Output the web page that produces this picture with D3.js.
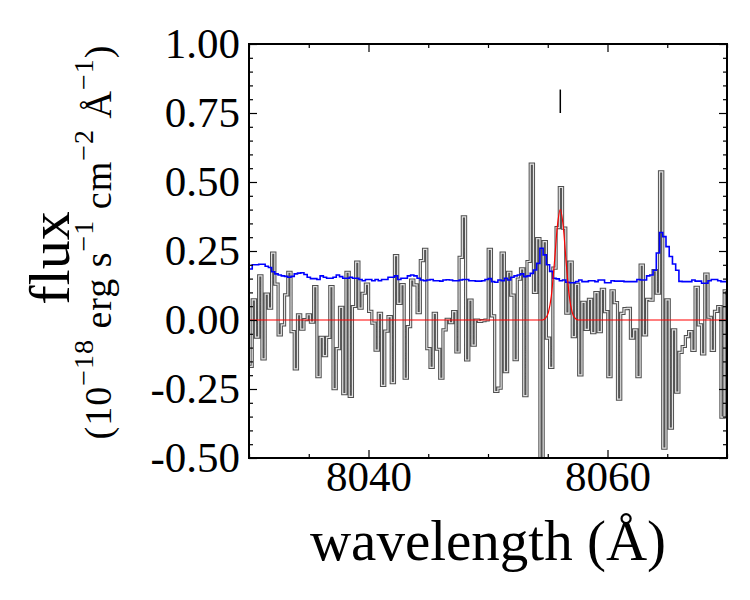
<!DOCTYPE html>
<html>
<head>
<meta charset="utf-8">
<script src="https://cdn.jsdelivr.net/npm/d3@7"></script>
<style>
  body { margin: 0; background: #fff; }
  svg text { font-family: "Liberation Serif", "DejaVu Serif", serif; fill: #000; }
</style>
</head>
<body>
<div id="chart"></div>
<script>
// spectrum sampling (regular wavelength grid)
const lambdaStart = 8030.0
const lambdaStep = 0.2705

// observed flux per bin
const flux = [
  -0.168, 0.073, -0.062, 0.160, -0.141, 0.094, 0.043, 0.242, 0.130, -0.054,
  -0.018, 0.091, 0.173, -0.042, -0.177, 0.019, -0.033, 0.001, 0.019, -0.008,
  0.121, -0.205, -0.063, -0.129, -0.063, 0.121, -0.249, -0.104, 0.046, -0.267,
  0.173, -0.277, 0.049, 0.210, 0.043, 0.097, 0.130, 0.031, -0.011, -0.109,
  0.024, -0.237, -0.040, 0.012, -0.227, 0.233, 0.060, 0.128, -0.211, -0.024,
  0.145, 0.127, 0.027, 0.215, 0.256, -0.104, -0.172, 0.024, -0.106, -0.211,
  -0.036, 0.002, -0.010, 0.030, -0.116, 0.227, 0.374, -0.145, 0.072, -0.091,
  0.000, -0.005, -0.002, 0.000, 0.256, 0.015, -0.259, -0.247, 0.242, -0.187,
  0.173, 0.090, -0.144, 0.148, 0.185, -0.274, 0.212, 0.565, 0.100, 0.295,
  -0.650, 0.284, -0.066, -0.172, 0.188, 0.335, 0.480, 0.333, 0.025, 0.210,
  -0.060, 0.129, -0.199, 0.064, -0.034, 0.075, -0.046, 0.099, -0.042, 0.111,
  0.030, -0.205, 0.106, 0.063, -0.287, 0.024, 0.041, 0.042, -0.066, -0.036,
  -0.205, 0.199, -0.054, 0.075, 0.072, 0.179, 0.097, 0.537, -0.464, 0.073,
  -0.392, -0.036, -0.261, -0.117, -0.096, -0.060, -0.042, -0.110, 0.118, -0.018,
  -0.123, 0.166, 0.010, -0.110, 0.031, 0.049, -0.352, 0.106, 0.097
]

// noise per bin
const noise = [
  0.185, 0.200, 0.200, 0.202, 0.202, 0.195, 0.190, 0.175, 0.167, 0.163,
  0.160, 0.158, 0.155, 0.158, 0.167, 0.170, 0.171, 0.165, 0.155, 0.150,
  0.150, 0.147, 0.160, 0.155, 0.151, 0.151, 0.155, 0.163, 0.157, 0.151,
  0.151, 0.155, 0.151, 0.151, 0.147, 0.142, 0.147, 0.147, 0.142, 0.147,
  0.142, 0.147, 0.147, 0.155, 0.155, 0.160, 0.147, 0.151, 0.151, 0.160,
  0.163, 0.160, 0.151, 0.145, 0.142, 0.145, 0.147, 0.142, 0.142, 0.141,
  0.145, 0.146, 0.145, 0.142, 0.142, 0.145, 0.147, 0.147, 0.142, 0.142,
  0.141, 0.141, 0.142, 0.147, 0.150, 0.139, 0.137, 0.145, 0.142, 0.151,
  0.145, 0.155, 0.160, 0.163, 0.167, 0.157, 0.160, 0.169, 0.181, 0.205,
  0.260, 0.236, 0.200, 0.176, 0.151, 0.149, 0.142, 0.145, 0.137, 0.135,
  0.135, 0.139, 0.145, 0.139, 0.139, 0.142, 0.142, 0.139, 0.145, 0.145,
  0.135, 0.135, 0.142, 0.141, 0.141, 0.141, 0.139, 0.139, 0.139, 0.139,
  0.147, 0.145, 0.145, 0.160, 0.163, 0.180, 0.243, 0.317, 0.302, 0.266,
  0.230, 0.203, 0.180, 0.140, 0.139, 0.139, 0.139, 0.145, 0.141, 0.141,
  0.133, 0.133, 0.142, 0.147, 0.147, 0.142, 0.139, 0.139, 0.139
]

// fitted line model
const modelWave = [8030, 8054.55, 8054.8, 8055.05, 8055.3, 8055.55, 8055.8, 8056.05,
  8056.3, 8056.55, 8056.8, 8057.05, 8057.3, 8057.55, 8070]
const modelFlux = [0, 0, 0.006, 0.027, 0.087, 0.204, 0.338, 0.400,
  0.338, 0.204, 0.087, 0.027, 0.006, 0, 0]

// line position marker
const markerWave = 8056.05
const markerRange = [0.75, 0.835]

const xTicks = [8040, 8060]
const xMinor = [8030, 8035, 8045, 8050, 8055, 8065, 8070]
const yTicks = [-0.5, -0.25, 0, 0.25, 0.5, 0.75, 1.0]

const width = 750, height = 600
const margin = {top: 44, right: 23, bottom: 142, left: 249}
const innerW = width - margin.left - margin.right
const innerH = height - margin.top - margin.bottom

const svg = d3.select('#chart').append('svg')
  .attr('width', width)
  .attr('height', height)

const g = svg.append('g').attr('transform', `translate(${margin.left},${margin.top})`)

const x = d3.scaleLinear().domain([8030, 8070]).range([0, innerW])
const y = d3.scaleLinear().domain([-0.5, 1.0]).range([innerH, 0])

g.append('clipPath').attr('id', 'clip')
  .append('rect').attr('width', innerW).attr('height', innerH)

const plot = g.append('g').attr('clip-path', 'url(#clip)')

// step data: left edge of every bin, plus closing edge
const steps = vals => {
  const pts = vals.map((v, i) => [lambdaStart + i * lambdaStep, v])
  pts.push([lambdaStart + vals.length * lambdaStep, vals[vals.length - 1]])
  return pts
}
const stepLine = d3.line()
  .x(d => x(d[0]))
  .y(d => y(d[1]))
  .curve(d3.curveStepAfter)

plot.append('path')
  .attr('d', stepLine(steps(flux)))
  .attr('fill', 'none')
  .attr('stroke', '#505050')
  .attr('stroke-width', 3.2)

plot.append('path')
  .attr('d', stepLine(steps(flux)))
  .attr('fill', 'none')
  .attr('stroke', '#e2e2e2')
  .attr('stroke-width', 1.2)

plot.append('path')
  .attr('d', stepLine(steps(noise)))
  .attr('fill', 'none')
  .attr('stroke', '#0000ff')
  .attr('stroke-width', 1.6)

const modelLine = d3.line()
  .x((d, i) => x(modelWave[i]))
  .y(d => y(d))
  .curve(d3.curveMonotoneX)

plot.append('path')
  .attr('d', modelLine(modelFlux))
  .attr('fill', 'none')
  .attr('stroke', '#ff0000')
  .attr('stroke-width', 1.2)

plot.append('line')
  .attr('x1', x(markerWave)).attr('x2', x(markerWave))
  .attr('y1', y(markerRange[0])).attr('y2', y(markerRange[1]))
  .attr('stroke', '#000')
  .attr('stroke-width', 1.5)

// axes, ticks pointing inward on all four sides
const fmt = d => d.toFixed(2)
const yMinor = d3.range(-0.5, 1.0001, 0.05).filter(v => !yTicks.some(t => Math.abs(t - v) < 1e-6))

const axisStyle = sel => {
  sel.select('.domain').remove()
  sel.selectAll('line').attr('stroke', '#000').attr('stroke-width', 1.2)
  sel.selectAll('text').attr('font-family', '"Liberation Serif", serif').attr('font-size', 43).attr('fill', '#000')
}

g.append('g').call(d3.axisLeft(y).tickValues(yTicks).tickFormat(fmt).tickSize(-8).tickPadding(9)).call(axisStyle)
g.append('g').call(d3.axisLeft(y).tickValues(yMinor).tickFormat('').tickSize(-4)).call(axisStyle)
g.append('g').attr('transform', `translate(${innerW},0)`)
  .call(d3.axisRight(y).tickValues(yTicks).tickFormat('').tickSize(-8)).call(axisStyle)
g.append('g').attr('transform', `translate(${innerW},0)`)
  .call(d3.axisRight(y).tickValues(yMinor).tickFormat('').tickSize(-4)).call(axisStyle)

g.append('g').attr('transform', `translate(0,${innerH})`)
  .call(d3.axisBottom(x).tickValues(xTicks).tickFormat(d3.format('d')).tickSize(-8).tickPadding(2)).call(axisStyle)
g.append('g').attr('transform', `translate(0,${innerH})`)
  .call(d3.axisBottom(x).tickValues(xMinor).tickFormat('').tickSize(-4)).call(axisStyle)
g.append('g').call(d3.axisTop(x).tickValues(xTicks).tickFormat('').tickSize(-8)).call(axisStyle)
g.append('g').call(d3.axisTop(x).tickValues(xMinor).tickFormat('').tickSize(-4)).call(axisStyle)

g.append('rect')
  .attr('width', innerW).attr('height', innerH)
  .attr('fill', 'none').attr('stroke', '#000').attr('stroke-width', 2)

// axis labels
svg.append('text')
  .attr('x', margin.left + innerW / 2)
  .attr('y', 560)
  .attr('text-anchor', 'middle')
  .attr('font-size', 57)
  .text('wavelength (Å)')

svg.append('text')
  .attr('transform', 'translate(69,258) rotate(-90)')
  .attr('text-anchor', 'middle')
  .attr('font-size', 58)
  .text('flux')

const units = svg.append('text')
  .attr('transform', 'translate(111,242) rotate(-90)')
  .attr('text-anchor', 'middle')
  .attr('font-size', 38)
  .attr('letter-spacing', 1)
const parts = [['(10', null], ['\u221218', 'sup'], [' erg s', null], ['\u22121', 'sup'],
  [' cm', null], ['\u22122', 'sup'], [' Å', null], ['\u22121', 'sup'], [')', null]]
parts.forEach(([t, kind]) => {
  const ts = units.append('tspan').text(t)
  if (kind === 'sup') ts.attr('font-size', 28).attr('dy', -18)
  else ts.attr('dy', units.selectAll('tspan').size() > 1 ? 18 : 0)
})
</script>
</body>
</html>
